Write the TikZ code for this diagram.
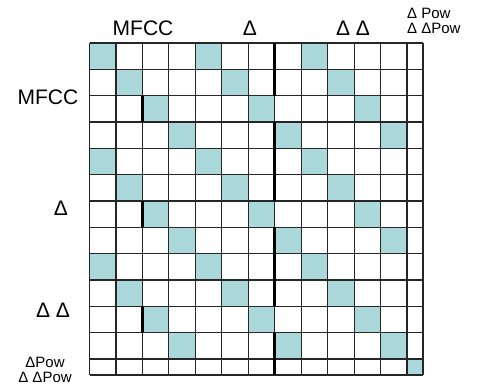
\documentclass[tikz,border=0pt]{standalone}
\usepackage{fontspec}
\setmainfont{Liberation Sans}
\usetikzlibrary{positioning}
\definecolor{cellteal}{RGB}{170,216,219}

\begin{document}
\begin{tikzpicture}[
    x=1pt, y=-1pt,
    every node/.style={font=\fontsize{21}{23}\selectfont, inner sep=0pt},
    small/.style={font=\fontsize{15}{15}\selectfont},
    cell/.style={fill=cellteal},
    gridline/.style={line width=1.2pt, black!85},
    heavy/.style={line width=2.6pt, black}
]
\useasboundingbox (0,0) rectangle (479,390);
\def\cw{26.46}
\def\ch{26.33}
% coloured diagonal cells
\foreach \r in {0,...,11} {
  \foreach \b in {0,1,2} {
    \pgfmathsetmacro{\c}{int(mod(\r,4)+4*\b)}
    \fill[cell] (89.5+\c*\cw, 43+\r*\ch) rectangle ++(\cw,\ch);
  }
}
\fill[cell] (407,359) rectangle (423,375);
% grid lines
\foreach \i in {0,...,12} \draw[gridline] (89.5+\i*\cw,43) -- (89.5+\i*\cw,375);
\draw[gridline] (423,43) -- (423,375);
\foreach \j in {0,...,12} \draw[gridline] (89.5,43+\j*\ch) -- (423,43+\j*\ch);
\draw[gridline] (89.5,375) -- (423,375);
% heavy segments
\foreach \r in {2,6,10} \draw[heavy] (89.5+2*\cw, 43+\r*\ch) -- ++(0,\ch);
\foreach \a/\b in {0/2,3/6,7/10,11/12.61} \draw[heavy] (89.5+7*\cw, 43+\a*\ch) -- (89.5+7*\cw, 43+\b*\ch);
% column labels
\node (topmfcc) at (143,28) {MFCC};
\node (topd) at (250,28) {Δ};
\node (topdd) at (353,28) {Δ Δ};
\node[small, align=left, anchor=west] (toppow) at (407,21) {Δ Pow\\Δ ΔPow};
% row labels
\node (leftmfcc) at (48,97) {MFCC};
\node (leftd) at (61,208) {Δ};
\node (leftdd) at (53,310) {Δ Δ};
\node[small, align=center] (leftpow) at (45,370) {ΔPow\\Δ ΔPow};
\end{tikzpicture}
\end{document}
